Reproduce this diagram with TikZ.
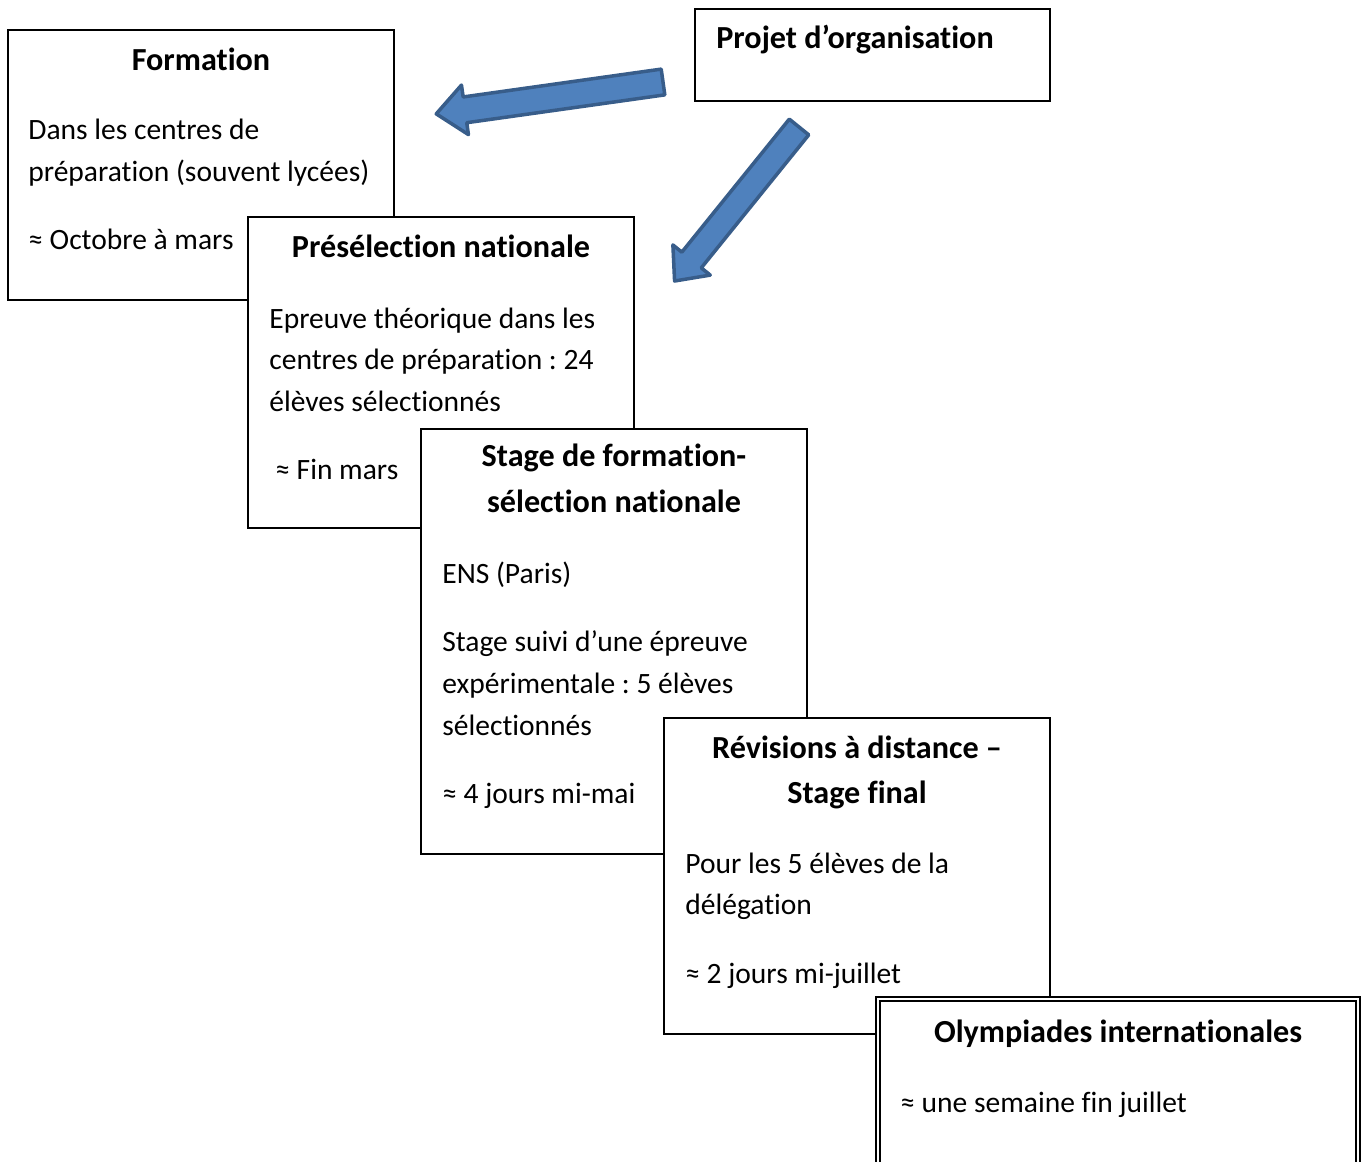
\documentclass[tikz,border=0pt]{standalone}
\usepackage{fontspec}
\setmainfont{Carlito}[Ligatures=NoCommon]
\usetikzlibrary{positioning}
\definecolor{arrowfill}{RGB}{79,129,189}
\definecolor{arrowline}{RGB}{56,93,138}

\tikzset{
  box/.style={draw=black, line width=0.9pt, fill=white},
  thinbox/.style={draw=black, line width=0.6pt},
  title/.style={anchor=base, inner sep=0pt, font=\fontsize{18.3}{26}\selectfont\bfseries},
  txt/.style={anchor=base west, inner sep=0pt, font=\fontsize{16.8}{23.8}\selectfont},
  bigarrow/.style={draw=arrowline, fill=arrowfill, line width=2pt, line join=round},
}
\frenchspacing

\begin{document}
\begin{tikzpicture}[x=0.02cm, y=-0.02cm]
    \clip (0,0) rectangle (1365,1162);

    % --- Formation ---
    \draw[box] (8,30) rectangle (394,300);
    \node[title] (form) at (201,71) {Formation};
    \node[txt] (form1) at (28,140) {Dans les centres de};
    \node[txt] (form2) at (28,182) {préparation (souvent lycées)};
    \node[txt] (form3) at (28,250) {≈ Octobre à mars};

    % --- Projet d'organisation ---
    \draw[box] (695,9) rectangle (1050,101);
    \node[title, anchor=base west] (proj) at (716,49) {Projet d’organisation};

    % Big arrows from the project box
    \begin{scope}[shift={(663,82)}, rotate=188]
        \draw[bigarrow] (0,-13) -- (200,-13) -- (200,-25) -- (229,0) -- (200,25) -- (200,13) -- (0,13) -- cycle;
    \end{scope}
    \begin{scope}[shift={(799,127)}, rotate=231.07]
        \draw[bigarrow] (0,-12.5) -- (171,-12.5) -- (171,-24) -- (198,0) -- (171,24) -- (171,12.5) -- (0,12.5) -- cycle;
    \end{scope}

    % --- Preselection nationale ---
    \draw[box] (248,217) rectangle (634,528);
    \node[title] (pre) at (441,257) {Présélection nationale};
    \node[txt] (pre1) at (269,328) {Epreuve théorique dans les};
    \node[txt] (pre2) at (269,369) {centres de préparation : 24};
    \node[txt] (pre3) at (269,411) {élèves sélectionnés};
    \node[txt] (pre4) at (275,479) {≈ Fin mars};

    % --- Stage de formation-selection ---
    \draw[box] (421,429) rectangle (807,854);
    \node[title] (stage) at (614,466) {Stage de formation-};
    \node[title] (stageb) at (614,512) {sélection nationale};
    \node[txt] (stage1) at (442,583) {ENS (Paris)};
    \node[txt] (stage2) at (442,651) {Stage suivi d’une épreuve};
    \node[txt] (stage3) at (442,693) {expérimentale : 5 élèves};
    \node[txt] (stage4) at (442,735) {sélectionnés};
    \node[txt] (stage5) at (442,803) {≈ 4 jours mi-mai};

    % --- Revisions / stage final ---
    \draw[box] (664,718) rectangle (1050,1034);
    \node[title] (rev) at (857,758) {Révisions à distance –};
    \node[title] (revb) at (857,803) {Stage final};
    \node[txt] (rev1) at (685,873) {Pour les 5 élèves de la};
    \node[txt] (rev2) at (685,914) {délégation};
    \node[txt] (rev3) at (685,983) {≈ 2 jours mi-juillet};

    % --- Olympiades (double frame) ---
    \draw[thinbox, fill=white] (876,997) rectangle (1360,1220);
    \draw[thinbox] (880,1001) rectangle (1356,1220);
    \node[title] (olymp) at (1118,1042) {Olympiades internationales};
    \node[txt] (olymp1) at (900,1112) {≈ une semaine fin juillet};

\end{tikzpicture}
\end{document}
